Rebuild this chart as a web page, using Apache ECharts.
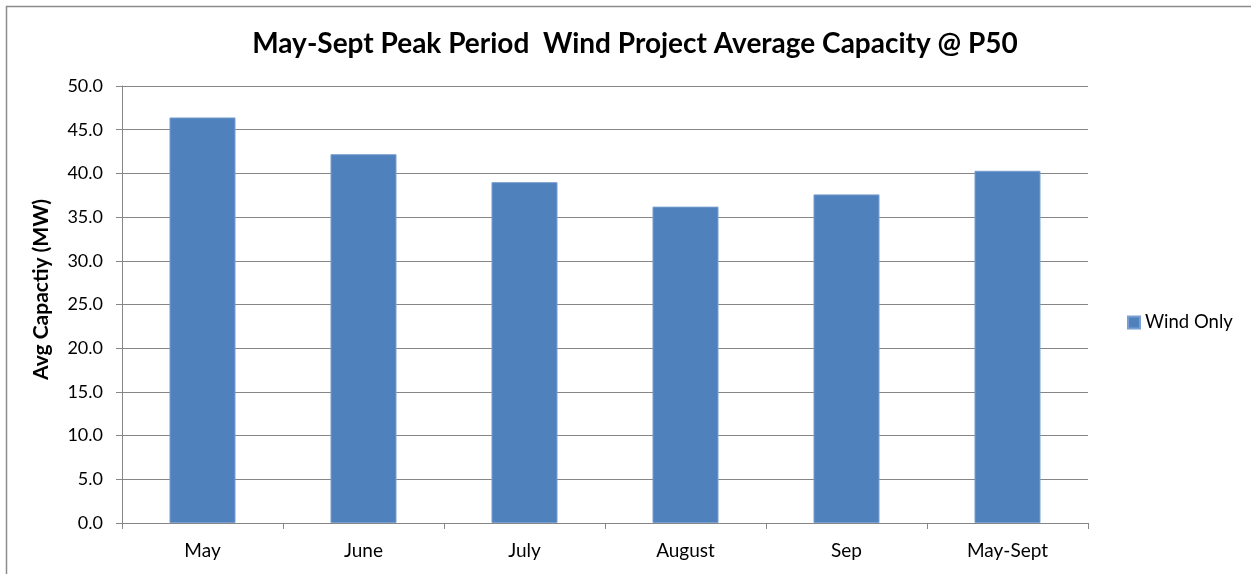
<!DOCTYPE html>
<html><head><meta charset="utf-8">
<script src="https://cdn.jsdelivr.net/npm/echarts@6/dist/echarts.min.js"></script>
<style>html,body{margin:0;padding:0;background:#fff}#c{width:1251px;height:574px}</style>
</head><body><div id="c"></div>
<script>
const categories = ['May', 'June', 'July', 'August', 'Sep', 'May-Sept'];
const windOnly = [46.4, 42.2, 39.0, 36.2, 37.6, 40.3];
const yTicks = { min: 0, max: 50, interval: 5 };
const FONT = 'Lato';

const chart = echarts.init(document.getElementById('c'), null, { renderer: 'canvas' });
chart.setOption({
  animation: false,
  backgroundColor: '#fff',
  graphic: [{
    type: 'rect', shape: { x: 6.5, y: 6.5, width: 1260, height: 600 },
    style: { fill: 'none', stroke: '#8c8c8c', lineWidth: 1.5 }, silent: true
  }],
  title: {
    text: 'May-Sept Peak Period  Wind Project Average Capacity @ P50',
    left: 630, top: 25, textAlign: 'center',
    textStyle: { fontFamily: FONT, fontSize: 28, fontWeight: 'bold', color: '#000' }
  },
  legend: {
    data: ['Wind Only'], orient: 'vertical', left: 1122, top: 308,
    itemWidth: 12, itemHeight: 12, itemGap: 6, icon: 'rect',
    textStyle: { fontFamily: FONT, fontSize: 18.5, color: '#000', padding: [0, 0, 0, 0] }
  },
  grid: { left: 122, right: 163, top: 86, bottom: 51, containLabel: false },
  xAxis: {
    type: 'category', data: categories, boundaryGap: true,
    axisLine: { lineStyle: { color: '#868686', width: 1 } },
    axisTick: { show: true, length: 6, lineStyle: { color: '#868686' } },
    axisLabel: { fontFamily: FONT, fontSize: 19, color: '#000', margin: 18 }
  },
  yAxis: {
    type: 'value', min: yTicks.min, max: yTicks.max, interval: yTicks.interval,
    name: 'Avg Capactiy (MW)', nameLocation: 'middle', nameGap: 70, nameRotate: 90,
    nameTextStyle: { fontFamily: FONT, fontSize: 21, fontWeight: 'bold', color: '#000',
      padding: [0, 0, 0, 30] },
    axisLine: { show: true, lineStyle: { color: '#868686', width: 1 } },
    axisTick: { show: true, length: 6, lineStyle: { color: '#868686' } },
    axisLabel: { fontFamily: FONT, fontSize: 18, color: '#000', margin: 19,
      formatter: v => v.toFixed(1) },
    splitLine: { show: true, lineStyle: { color: '#868686', width: 1 } }
  },
  series: [{
    name: 'Wind Only', type: 'bar', data: windOnly, barWidth: '41%',
    itemStyle: { color: '#4F81BD', borderColor: '#7a9fd0', borderWidth: 1 }
  }]
});
</script></body></html>
